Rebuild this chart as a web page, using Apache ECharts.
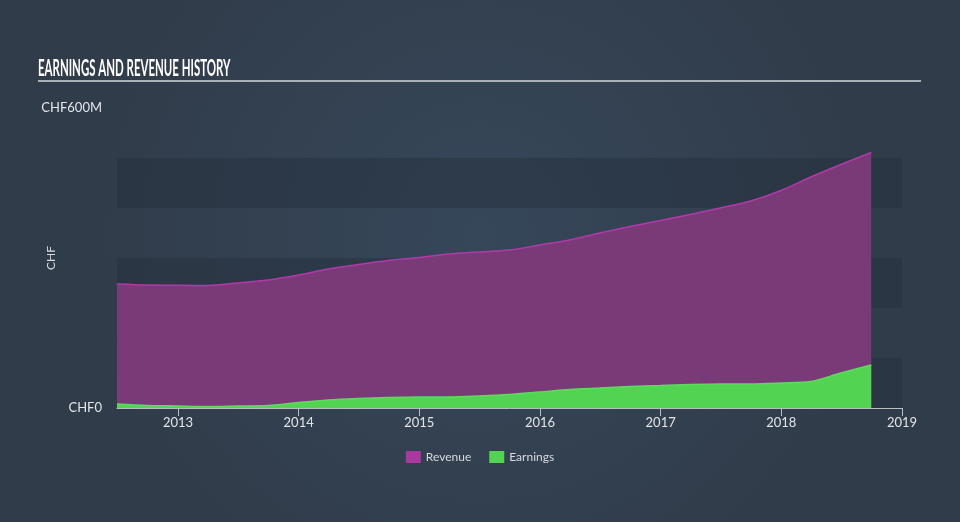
<!DOCTYPE html>
<html>
<head>
<meta charset="utf-8">
<script src="https://cdn.jsdelivr.net/npm/echarts@6/dist/echarts.min.js"></script>
<style>
html,body{margin:0;padding:0;background:#333f4e;}
#c{width:960px;height:522px;}
</style>
</head>
<body>
<div id="c"></div>
<script>
const dates = ['2012-06-30','2012-09-30','2012-12-31','2013-03-31','2013-06-30','2013-09-30','2013-12-31',
  '2014-03-31','2014-06-30','2014-09-30','2014-12-31','2015-03-31','2015-06-30','2015-09-30','2015-12-31',
  '2016-03-31','2016-06-30','2016-09-30','2016-12-31','2017-03-31','2017-06-30','2017-09-30','2017-12-31',
  '2018-03-31','2018-06-30','2018-09-30'];
const revenue = [248,246,245.5,245,250,256,266,278,287,295,301,308,312,316,326,336,350,363,375,387,400,414,435,462,487,511];
const earnings = [8,5,4,3,4,5,11,16,19,21,22,22,24,27,32,37,40,43,45,47,48,48,50,53,70,86];
const yearTicks = [2013,2014,2015,2016,2017,2018,2019];
const yTickLabels = {0:'CHF0', 600:'CHF600M'};
const titleText = 'EARNINGS AND REVENUE HISTORY';

// date string -> decimal year
function dy(s){
  const p=s.split('-').map(Number);
  const start=Date.UTC(p[0],0,1), end=Date.UTC(p[0]+1,0,1), t=Date.UTC(p[0],p[1]-1,p[2]);
  return p[0]+(t-start)/(end-start);
}
const font = 'Lato, "Noto Sans", sans-serif';

const chart = echarts.init(document.getElementById('c'));
chart.setOption({
  backgroundColor: {
    type:'radial', x:0.5, y:0.45, r:0.75,
    colorStops:[{offset:0,color:'#36475a'},{offset:1,color:'#313c4a'}]
  },
  animation: false,
  graphic: [
    {
      type:'text', x:38, y:58, scaleX:0.545, scaleY:1.05,
      style:{text:titleText, fill:'#ffffff', font:'bold 21px Lato, sans-serif', textVerticalAlign:'top'}
    },
    {
      type:'line', shape:{x1:38,y1:81,x2:921,y2:81}, style:{stroke:'#aab0b7', lineWidth:2}
    }
  ],
  legend: {
    bottom: 54, left: 'center',
    icon: 'rect', itemWidth: 15, itemHeight: 12, itemGap: 18,
    textStyle: {color:'#d7dade', fontSize:12, fontFamily:font},
    data: ['Revenue','Earnings']
  },
  grid: {left:117, right:58, top:108, bottom:114},
  xAxis: {
    type: 'value',
    min: dy(dates[0]), max: 2019,
    axisLine: {show:true, lineStyle:{color:'#b9bec4', width:1}},
    axisTick: {show:true, length:8, lineStyle:{color:'#b9bec4'}, customValues: yearTicks},
    axisLabel: {color:'#e2e5e8', fontSize:13, fontFamily:font, margin:8, customValues: yearTicks,
      formatter: v => String(Math.round(v))},
    splitLine: {show:false}
  },
  yAxis: {
    type: 'value', min: 0, max: 600, interval: 100,
    name: 'CHF', nameLocation: 'middle', nameGap: 60, nameRotate: 90, nameMoveOverlap: false,
    nameTextStyle: {color:'#d7dade', fontSize:12, fontFamily:font},
    axisLine: {show:false}, axisTick: {show:false},
    axisLabel: {color:'#e2e5e8', fontSize:13, fontFamily:font, margin:15,
      formatter: v => (yTickLabels[v] !== undefined ? yTickLabels[v] : '')},
    splitLine: {show:false},
    splitArea: {show:true, areaStyle:{color:['rgba(36,46,60,0.45)','rgba(0,0,0,0)']}}
  },
  series: [
    {
      name: 'Revenue', type: 'line', smooth: 0.3, symbol: 'none',
      data: dates.map((d,i)=>[dy(d), revenue[i]]),
      itemStyle: {color:'#a8399e'},
      lineStyle: {color:'#b03aa8', width:1.5},
      areaStyle: {color:'#7a3a77', opacity:1},
      z: 2
    },
    {
      name: 'Earnings', type: 'line', smooth: 0.3, symbol: 'none',
      data: dates.map((d,i)=>[dy(d), earnings[i]]),
      itemStyle: {color:'#52d452'},
      lineStyle: {color:'#5cdc5c', width:1.5},
      areaStyle: {color:'#52d452', opacity:1},
      z: 3
    }
  ]
});
</script>
</body>
</html>
